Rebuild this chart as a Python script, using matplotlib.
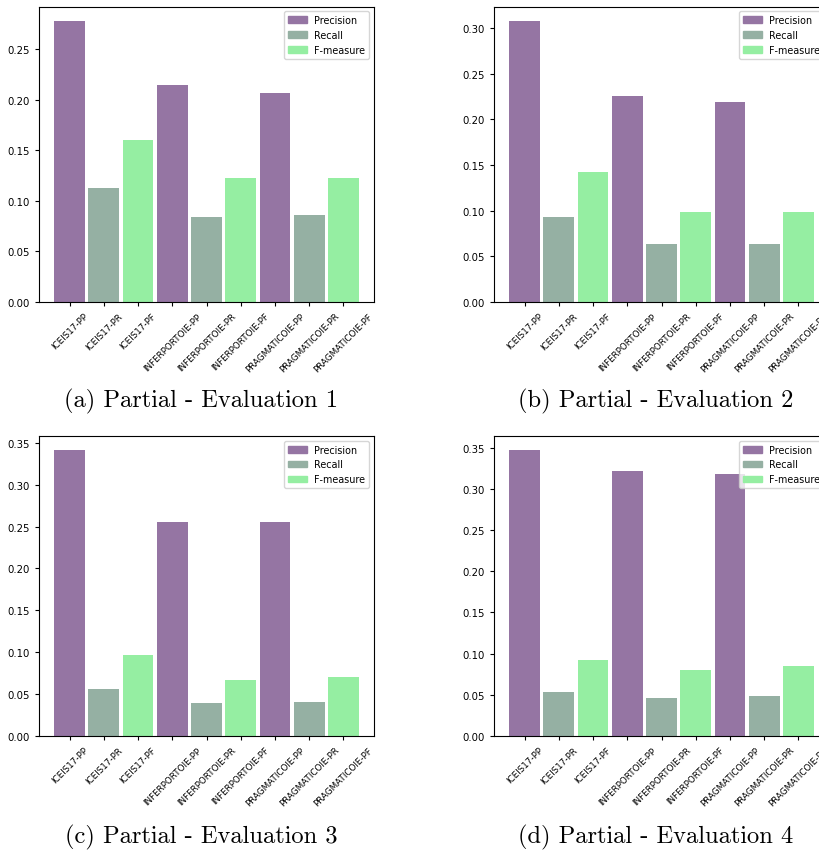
import numpy as np
import matplotlib
matplotlib.use('Agg')
import matplotlib.pyplot as plt

# 数据: 三个系统 x 三个指标
labels = ['ICEIS17-PP', 'ICEIS17-PR', 'ICEIS17-PF',
          'INFERPORTOIE-PP', 'INFERPORTOIE-PR', 'INFERPORTOIE-PF',
          'PRAGMATICOIE-PP', 'PRAGMATICOIE-PR', 'PRAGMATICOIE-PF']
metrics = ['Precision', 'Recall', 'F-measure']

eval1 = [0.278, 0.113, 0.160, 0.214, 0.084, 0.122, 0.206, 0.086, 0.122]
eval2 = [0.308, 0.093, 0.142, 0.225, 0.063, 0.098, 0.219, 0.064, 0.099]
eval3 = [0.341, 0.056, 0.097, 0.255, 0.039, 0.067, 0.255, 0.041, 0.070]
eval4 = [0.347, 0.053, 0.092, 0.322, 0.046, 0.080, 0.318, 0.048, 0.085]

captions = ['(a) Partial - Evaluation 1', '(b) Partial - Evaluation 2',
            '(c) Partial - Evaluation 3', '(d) Partial - Evaluation 4']

colors = ['#9575a3', '#95b0a3', '#95eea2']

W, H = 819, 853
fig = plt.figure(figsize=(W / 100, H / 100), dpi=100)

# 像素坐标 (left, top, right, bottom)
boxes = [(39, 7.5, 374, 303), (494, 7.5, 829, 303),
         (39, 437, 374, 737), (494, 437, 829, 737)]
cap_pos = [(201, 401), (656, 401), (201, 837), (656, 837)]

for vals, box, cap, cp in zip([eval1, eval2, eval3, eval4], boxes, captions, cap_pos):
    l, t, r, b = box
    ax = fig.add_axes([l / W, (H - b) / H, (r - l) / W, (b - t) / H])
    x = np.arange(len(labels))
    cols = [colors[i % 3] for i in range(len(labels))]
    ax.bar(x, vals, width=0.9, color=cols)
    # 图例
    handles = [plt.Rectangle((0, 0), 1, 1, color=c) for c in colors]
    ax.legend(handles, metrics, loc='upper right', fontsize=6.9)
    ax.set_xticks(x)
    ax.set_xticklabels(labels, rotation=45, fontsize=6.3)
    ax.tick_params(axis='y', labelsize=7.3, length=3)
    ax.tick_params(axis='x', length=3)
    ax.yaxis.set_major_formatter(matplotlib.ticker.FormatStrFormatter('%.2f'))
    fig.text(cp[0] / W, 1 - cp[1] / H, cap, family='cmr10', fontsize=17.6,
             ha='center', va='center')

plt.savefig('out.png', dpi=100)
